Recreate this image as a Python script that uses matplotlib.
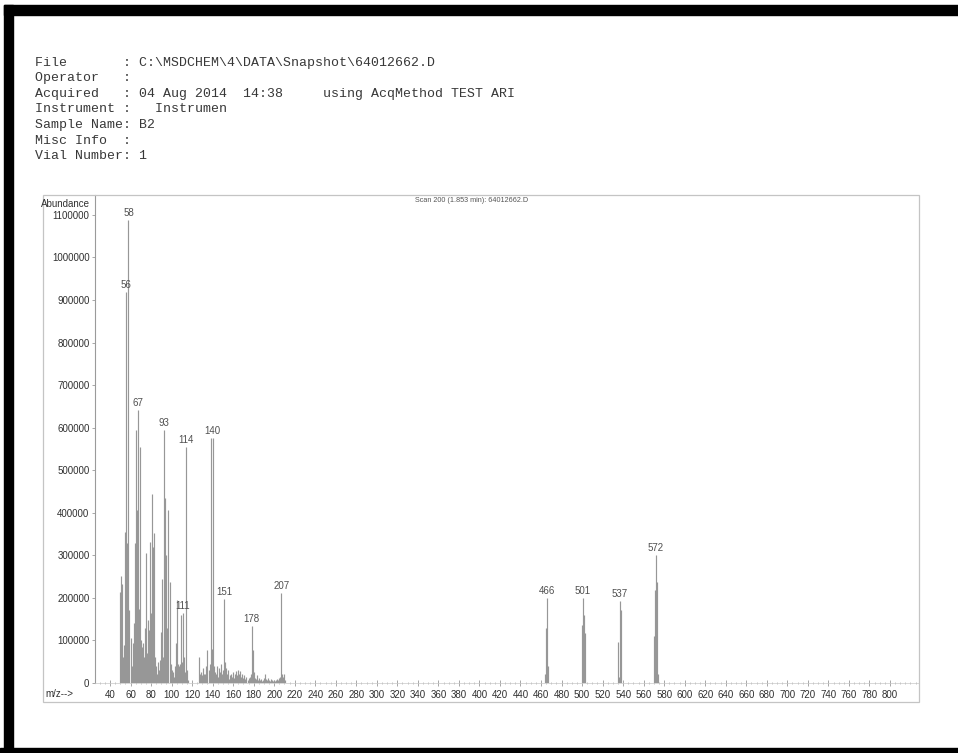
import matplotlib
matplotlib.use("Agg")
import matplotlib.pyplot as plt
from matplotlib.patches import Rectangle
from matplotlib.ticker import MultipleLocator

plt.rcParams["font.family"] = ["Liberation Sans", "DejaVu Sans"]

# header block of the printout
header_lines = [
    "File       : C:\\MSDCHEM\\4\\DATA\\Snapshot\\64012662.D",
    "Operator   :",
    "Acquired   : 04 Aug 2014  14:38     using AcqMethod TEST ARI",
    "Instrument :   Instrumen",
    "Sample Name: B2",
    "Misc Info  :",
    "Vial Number: 1",
]
scan_title = "Scan 200 (1.853 min): 64012662.D"

# spectrum (m/z, abundance)
mz = [
    50, 51, 52, 53, 54, 55, 56, 57, 58, 59, 60, 61, 62, 63, 64, 65, 66, 67, 68, 69,
    70, 71, 72, 73, 74, 75, 76, 77, 78, 79, 80, 81, 82, 83, 84, 85, 86, 87, 88, 89,
    90, 91, 92, 93, 94, 95, 96, 97, 98, 99, 100, 101, 102, 103, 104, 105, 106, 107,
    108, 109, 110, 111, 112, 113, 114, 115, 116,
    127, 128, 129, 130, 131, 132, 133, 134, 135, 136, 137, 138, 139, 140, 141, 142,
    143, 144, 145, 146, 147, 148, 149, 150, 151, 152, 153, 154, 155, 156, 157, 158,
    159, 160, 161, 162, 163, 164, 165, 166, 167, 168, 169, 170, 171, 172, 173, 174,
    175, 176, 177, 178, 179, 180, 181, 182, 183, 184, 185, 186, 187, 188, 189, 190,
    191, 192, 193, 194, 195, 196, 197, 198, 199, 200, 201, 202, 203, 204, 205, 206,
    207, 208, 209, 210, 211,
    464, 465, 466, 467,
    500, 501, 502, 503,
    535, 536, 537, 538,
    570, 571, 572, 573, 574,
]
abundance = [
    215000, 251000, 232000, 60000, 90000, 355000, 919500, 330000, 1088000, 172000,
    105000, 40000, 95000, 140000, 330000, 594000, 406000, 641500, 175000, 555000,
    100000, 85000, 95000, 60000, 130000, 305000, 70000, 148000, 125000, 332000,
    165000, 444000, 320000, 353000, 60000, 40000, 20000, 50000, 30000, 55000,
    120000, 244000, 60000, 594500, 434000, 301000, 130000, 406000, 237000, 45000,
    30000, 25000, 15000, 40000, 95000, 195000, 45000, 40000,
    45000, 160000, 50000, 165000, 60000, 25000, 555000, 30000, 8000,
    62000, 20000, 25000, 18000, 35000, 22000, 20000, 40000, 77000, 30000, 45000,
    575000, 80000, 575000, 40000, 25000,
    20000, 40000, 15000, 35000, 25000, 45000, 20000, 30000, 197000, 50000, 35000,
    20000, 30000, 10000, 18000, 22000,
    15000, 25000, 12000, 20000, 28000, 18000, 30000, 22000, 28000, 15000, 20000,
    12000, 18000, 10000, 15000, 8000,
    12000, 15000, 20000, 134000, 77000, 25000, 12000, 10000, 18000, 8000, 12000,
    6000, 10000, 5000, 8000, 12000,
    20000, 10000, 8000, 12000, 6000, 5000, 9000, 6000, 4000, 8000, 5000, 7000,
    10000, 6000, 12000, 15000,
    211000, 22000, 14000, 20000, 6000,
    20000, 129000, 200000, 40000,
    136000, 200000, 160000, 117000,
    97000, 15000, 192000, 172000,
    110000, 218000, 301000, 238000, 20000,
]
labelled_mz = [56, 58, 67, 93, 111, 114, 140, 151, 178, 207, 466, 501, 537, 572]

W, H = 958, 753
fig = plt.figure(figsize=(W / 100, H / 100), dpi=100)


def fx(px):
    return px / W


def fy(py):
    return 1 - py / H


# scanned page border
for x0, y0, x1, y1 in [(4, 5, 13, 753), (4, 5, 958, 15), (0, 748, 958, 753)]:
    fig.patches.append(Rectangle((fx(x0), fy(y1)), (x1 - x0) / W, (y1 - y0) / H,
                                 transform=fig.transFigure, color="black", zorder=0))

# frame round the spectrum
fig.patches.append(Rectangle((fx(43), fy(702)), (919 - 43) / W, (702 - 195) / H,
                             transform=fig.transFigure, fill=False,
                             edgecolor="#c4c4c4", linewidth=0.9))

for i, line in enumerate(header_lines):
    fig.text(fx(35), fy(63 + i * 15.5), line, family="Liberation Mono",
             fontsize=9.5, color="#383838", va="center", ha="left")

ax = fig.add_axes([fx(95), fy(683), (919 - 95) / W, (683 - 195) / H])
ax.vlines(mz, 0, abundance, colors="#979797", linewidth=0.85)

peak_height = dict(zip(mz, abundance))
for m in labelled_mz:
    ax.annotate(str(m), (m, peak_height[m]), xytext=(0, 1.5), textcoords="offset points",
                ha="center", va="bottom", fontsize=7, color="#505050")

ax.set_xlim(25.4, 828.3)
ax.set_ylim(0, 1146800)
ax.xaxis.set_minor_locator(MultipleLocator(5))
ax.set_xticks(range(40, 801, 20))
ax.set_yticks(range(0, 1100001, 100000))
ax.set_yticklabels([str(v) for v in range(0, 1100001, 100000)])
ax.tick_params(axis="x", which="major", direction="inout", length=4, width=0.6,
               colors="#999999", labelcolor="#303030", labelsize=7, pad=3)
ax.tick_params(axis="x", which="minor", direction="inout", length=2, width=0.5,
               colors="#aaaaaa")
ax.tick_params(axis="y", direction="out", length=2, width=0.6, colors="#999999",
               labelcolor="#303030", labelsize=7, pad=2)
for side in ["top", "right"]:
    ax.spines[side].set_visible(False)
ax.spines["left"].set_color("#9a9a9a")
ax.spines["bottom"].set_color("#c8c8c8")
ax.spines["left"].set_linewidth(0.8)
ax.spines["bottom"].set_linewidth(0.5)
ax.patch.set_alpha(0)

fig.text(fx(41), fy(204), "Abundance", fontsize=7, color="#303030", va="center", ha="left")
fig.text(fx(45), fy(694), "m/z-->", fontsize=7, color="#303030", va="center", ha="left")
fig.text(fx(472), fy(200), scan_title, fontsize=5.2, color="#555555", va="center", ha="center")

fig.savefig("out.png", dpi=100)
